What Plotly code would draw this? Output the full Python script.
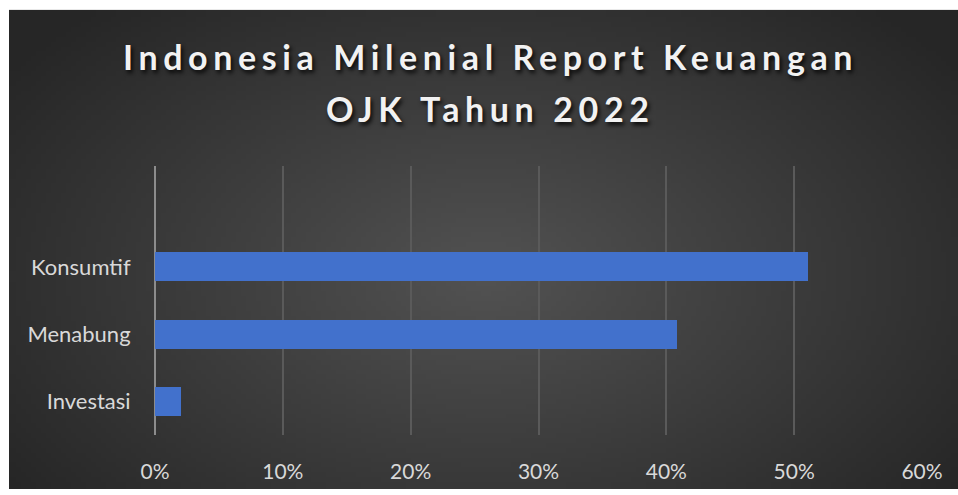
import base64, struct, zlib
import plotly.graph_objects as go

# ---- data ----
categories = ["Investasi", "Menabung", "Konsumtif"]
values = [2.0, 40.8, 51.1]
x_ticks = [0, 10, 20, 30, 40, 50, 60]
x_tick_labels = ["0%", "10%", "20%", "30%", "40%", "50%", "60%"]
title_lines = ["Indonesia Milenial Report Keuangan", "OJK Tahun 2022"]

W, H = 958, 495
L, R, T, B = 155, 36, 166, 55
pw, ph = W - L - R, H - T - B


def radial_png(w, h):
    rows = []
    cx, cy = w * 0.5, h * 0.55
    for j in range(h):
        row = bytearray([0])
        for i in range(w):
            dx = (i - cx) / (w * 0.62)
            dy = (j - cy) / (h * 0.75)
            d = min(1.0, (dx * dx + dy * dy) ** 0.5)
            v = int(round(82 - (82 - 38) * d))
            row += bytes([v, v, v])
        rows.append(bytes(row))
    raw = b"".join(rows)

    def chunk(t, d):
        c = struct.pack(">I", len(d)) + t + d
        return c + struct.pack(">I", zlib.crc32(t + d) & 0xFFFFFFFF)

    png = b"\x89PNG\r\n\x1a\n"
    png += chunk(b"IHDR", struct.pack(">IIBBBBB", w, h, 8, 2, 0, 0, 0))
    png += chunk(b"IDAT", zlib.compress(raw, 9))
    png += chunk(b"IEND", b"")
    return "data:image/png;base64," + base64.b64encode(png).decode()


def px_x(px):
    return (px - L) / pw


def px_y(py):
    return (H - B - py) / ph


bg = radial_png(190, 98)

fig = go.Figure()
fig.add_trace(go.Bar(
    y=categories, x=values, orientation="h", width=0.43,
    marker=dict(color="#4271CC", line=dict(width=0)),
    hoverinfo="x+y",
))

bx0, by0 = 9, 7
fig.add_layout_image(
    source=bg, xref="paper", yref="paper",
    x=px_x(bx0), y=px_y(by0),
    sizex=(W - bx0) / pw, sizey=(H - by0) / ph,
    xanchor="left", yanchor="top", sizing="stretch", layer="below",
)

title_font = dict(family="Lato", size=34, color="#f2f2f2", weight="bold",
                  shadow="2px 3px 4px rgba(0,0,0,0.85)")
for line, py in zip(title_lines, [54, 107]):
    fig.add_annotation(
        text="<span style='letter-spacing:5.6px'>" + line + "</span>",
        xref="paper", yref="paper", x=px_x(490), y=px_y(py),
        xanchor="center", yanchor="middle", showarrow=False,
        font=title_font,
    )

fig.update_layout(
    width=W, height=H,
    margin=dict(l=L, r=R, t=T, b=B),
    paper_bgcolor="white", plot_bgcolor="rgba(0,0,0,0)",
    showlegend=False,
    font=dict(family="Lato", color="#d9d9d9"),
    bargap=0,
)
fig.update_xaxes(
    range=[0, 60], tickvals=x_ticks, ticktext=x_tick_labels,
    showgrid=True, gridcolor="#5a5a5a", gridwidth=1.5,
    zeroline=True, zerolinecolor="#8c8c8c", zerolinewidth=2,
    ticks="outside", ticklen=18, tickcolor="rgba(0,0,0,0)",
    tickfont=dict(size=21, color="#d9d9d9"), fixedrange=True,
)
fig.update_yaxes(
    categoryorder="array", categoryarray=categories,
    range=[-0.5, 3.5], showgrid=False, zeroline=False,
    ticks="outside", ticklen=19, tickcolor="rgba(0,0,0,0)",
    tickfont=dict(size=22, color="#d9d9d9"), fixedrange=True,
)

fig.write_html("out.html", config={"displayModeBar": False},
               post_script="document.body.style.margin='0';")
